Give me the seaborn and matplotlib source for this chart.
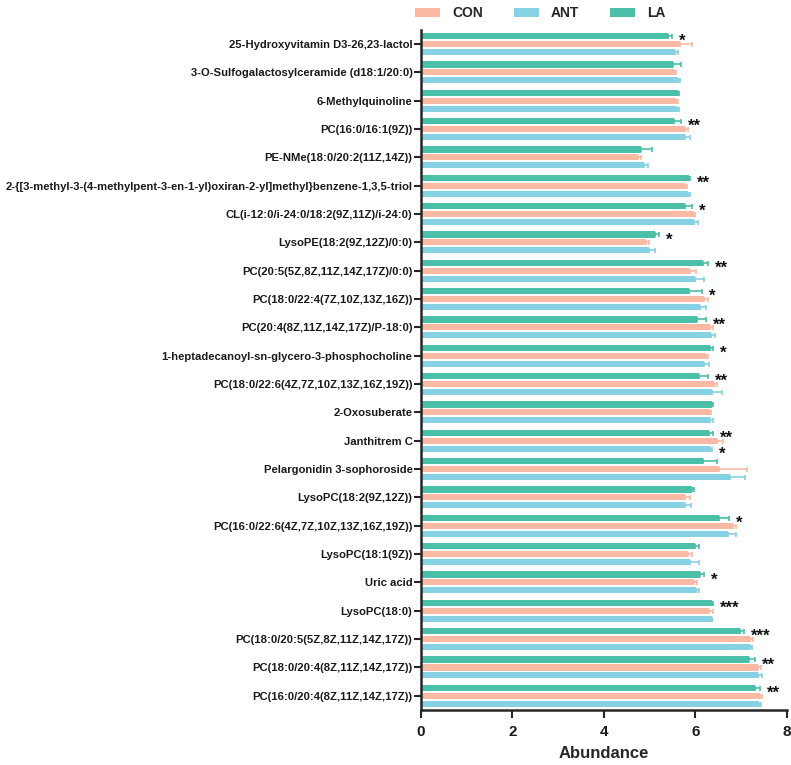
import pandas as pd
import seaborn as sns
import matplotlib.pyplot as plt
from matplotlib.patches import Patch

metabolites = [
    "25-Hydroxyvitamin D3-26,23-lactol",
    "3-O-Sulfogalactosylceramide (d18:1/20:0)",
    "6-Methylquinoline",
    "PC(16:0/16:1(9Z))",
    "PE-NMe(18:0/20:2(11Z,14Z))",
    "2-{[3-methyl-3-(4-methylpent-3-en-1-yl)oxiran-2-yl]methyl}benzene-1,3,5-triol",
    "CL(i-12:0/i-24:0/18:2(9Z,11Z)/i-24:0)",
    "LysoPE(18:2(9Z,12Z)/0:0)",
    "PC(20:5(5Z,8Z,11Z,14Z,17Z)/0:0)",
    "PC(18:0/22:4(7Z,10Z,13Z,16Z))",
    "PC(20:4(8Z,11Z,14Z,17Z)/P-18:0)",
    "1-heptadecanoyl-sn-glycero-3-phosphocholine",
    "PC(18:0/22:6(4Z,7Z,10Z,13Z,16Z,19Z))",
    "2-Oxosuberate",
    "Janthitrem C",
    "Pelargonidin 3-sophoroside",
    "LysoPC(18:2(9Z,12Z))",
    "PC(16:0/22:6(4Z,7Z,10Z,13Z,16Z,19Z))",
    "LysoPC(18:1(9Z))",
    "Uric acid",
    "LysoPC(18:0)",
    "PC(18:0/20:5(5Z,8Z,11Z,14Z,17Z))",
    "PC(18:0/20:4(8Z,11Z,14Z,17Z))",
    "PC(16:0/20:4(8Z,11Z,14Z,17Z))",
]

la_mean = [5.41, 5.50, 5.62, 5.54, 4.81, 5.85, 5.78, 5.11, 6.16, 5.86, 6.03, 6.32,
           6.08, 6.36, 6.29, 6.16, 5.93, 6.51, 5.99, 6.10, 6.37, 6.98, 7.16, 7.29]
la_err = [0.08, 0.19, 0.03, 0.14, 0.25, 0.04, 0.14, 0.10, 0.11, 0.28, 0.20, 0.06,
          0.19, 0.02, 0.09, 0.32, 0.04, 0.22, 0.08, 0.09, 0.01, 0.09, 0.15, 0.11]
con_mean = [5.67, 5.54, 5.58, 5.78, 4.74, 5.78, 5.97, 4.92, 5.89, 6.19, 6.31, 6.22,
            6.41, 6.31, 6.47, 6.51, 5.78, 6.82, 5.84, 5.96, 6.29, 7.20, 7.36, 7.42]
con_err = [0.25, 0.04, 0.03, 0.05, 0.07, 0.03, 0.02, 0.06, 0.13, 0.08, 0.07, 0.05,
           0.07, 0.02, 0.13, 0.61, 0.09, 0.06, 0.08, 0.07, 0.09, 0.05, 0.07, 0.03]
ant_mean = [5.56, 5.62, 5.60, 5.78, 4.87, 5.84, 5.97, 4.99, 6.00, 6.09, 6.34, 6.19,
            6.37, 6.32, 6.32, 6.76, 5.78, 6.70, 5.89, 6.02, 6.36, 7.18, 7.37, 7.39]
ant_err = [0.06, 0.05, 0.05, 0.09, 0.09, 0.05, 0.08, 0.13, 0.19, 0.13, 0.09, 0.10,
           0.21, 0.06, 0.04, 0.32, 0.13, 0.18, 0.18, 0.05, 0.01, 0.06, 0.08, 0.04]

la_stars = ["*", "", "", "**", "", "**", "*", "*", "**", "*", "**", "*",
            "**", "", "**", "", "", "*", "", "*", "***", "***", "**", "**"]
ant_stars = ["" if m != "Janthitrem C" else "*" for m in metabolites]

colors = {"CON": "#F9B9A3", "ANT": "#86D1E4", "LA": "#4BBFA7"}
draw_order = ["LA", "CON", "ANT"]
legend_order = ["CON", "ANT", "LA"]

means = {"LA": la_mean, "CON": con_mean, "ANT": ant_mean}
errs = {"LA": la_err, "CON": con_err, "ANT": ant_err}
stars = {"LA": la_stars, "CON": [""] * len(metabolites), "ANT": ant_stars}

df = pd.concat([pd.DataFrame({"metabolite": metabolites, "group": g, "value": means[g]})
                for g in draw_order])

sns.set_style("ticks")
plt.rcParams["font.family"] = ["Liberation Sans", "DejaVu Sans"]
plt.rcParams["font.weight"] = "bold"

fig = plt.figure(figsize=(7.91, 7.65), dpi=100)
ax = fig.add_axes([0.532, 0.072, 0.463, 0.889])

sns.barplot(data=df, x="value", y="metabolite", hue="group", hue_order=draw_order,
            palette=colors, saturation=1, orient="h", width=0.84, gap=0.22,
            linewidth=0, legend=False, ax=ax)

# error bars and significance marks from the drawn bars
for g, cont in zip(draw_order, ax.containers):
    for i, bar in enumerate(cont):
        w = bar.get_width()
        yc = bar.get_y() + bar.get_height() / 2
        ax.errorbar(w, yc, xerr=[[0], [errs[g][i]]], fmt="none", ecolor=colors[g],
                    elinewidth=1.2, capsize=1.8, capthick=1.2)
        if stars[g][i]:
            ax.annotate(stars[g][i], (w + errs[g][i], yc), xytext=(5, -4),
                        textcoords="offset points", ha="left", va="center",
                        fontsize=12, fontweight="bold", color="#111")

ax.set_xlim(0, 8)
ax.set_ylim(len(metabolites) - 0.5, -0.5)
ax.set_xticks([0, 2, 4, 6, 8])
ax.set_xlabel("Abundance", fontsize=12, fontweight="bold", labelpad=5)
ax.set_ylabel("")
ax.tick_params(axis="y", labelsize=8.1, width=1.5, length=5, pad=1)
ax.tick_params(axis="x", labelsize=11, width=1.5, length=6, pad=5)
for lab in ax.get_yticklabels() + ax.get_xticklabels():
    lab.set_fontweight("bold")
    lab.set_color("#1a1a1a")
for s in ["left", "bottom"]:
    ax.spines[s].set_linewidth(1.8)
sns.despine(ax=ax)

handles = [Patch(facecolor=colors[g], edgecolor="none") for g in legend_order]
fig.legend(handles, legend_order, loc="upper center", bbox_to_anchor=(0.683, 1.008),
           ncol=3, frameon=False, handlelength=1.8, handleheight=0.7,
           handletextpad=0.9, columnspacing=2.2, prop={"weight": "bold", "size": 10})

fig.savefig("out.png", dpi=100)
